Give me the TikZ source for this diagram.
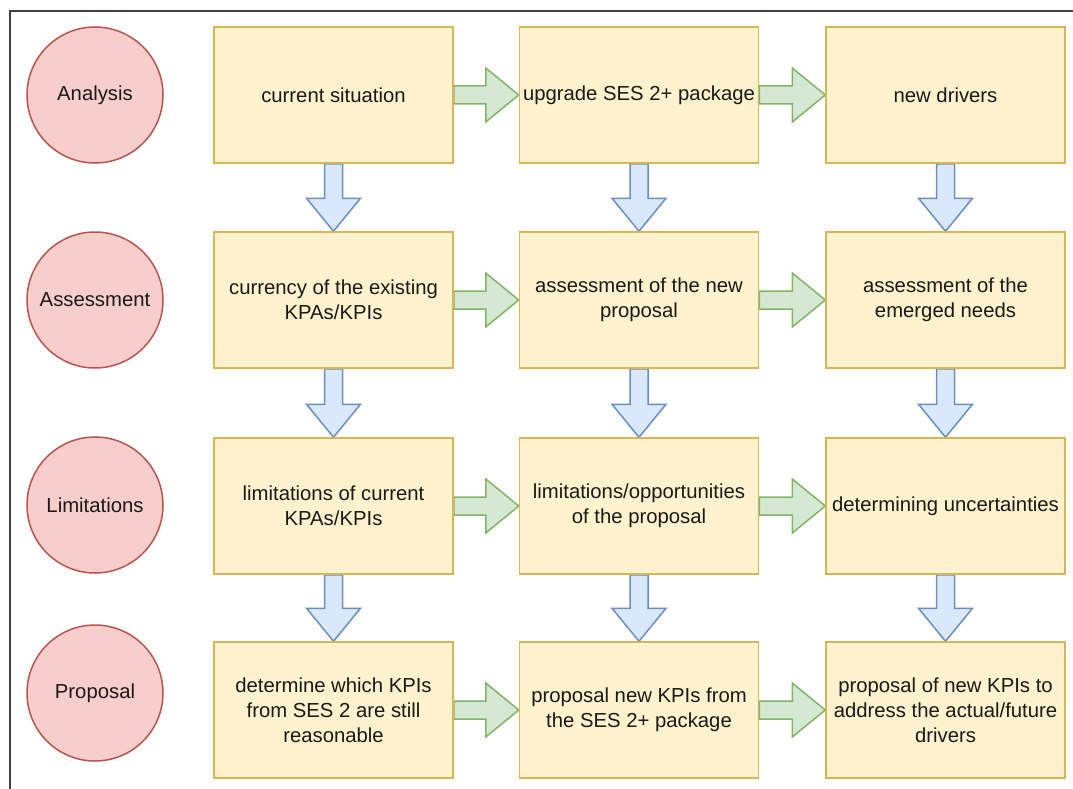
\documentclass[tikz,border=0pt]{standalone}
\usepackage{fontspec}
\setmainfont{Liberation Sans}
\usetikzlibrary{calc,backgrounds}
\definecolor{boxfill}{HTML}{FFF2CC}
\definecolor{boxline}{HTML}{D6B656}
\definecolor{circfill}{HTML}{F8CECC}
\definecolor{circline}{HTML}{B85450}
\definecolor{gfill}{HTML}{D5E8D4}
\definecolor{gline}{HTML}{82B366}
\definecolor{bfill}{HTML}{DAE8FC}
\definecolor{bline}{HTML}{6C8EBF}
\definecolor{frameline}{HTML}{404040}
\tikzset{
  stepbox/.style={draw=boxline, fill=boxfill, line width=1.5pt, minimum width=239pt, minimum height=136pt, inner sep=0pt, align=center, font=\fontsize{20.3}{25}\selectfont, text=black!90},
  phase/.style={draw=circline, fill=circfill, line width=1.5pt, circle, minimum size=136pt, inner sep=0pt, font=\fontsize{20.3}{25}\selectfont, text=black!90},
  harr/.style={draw=gline, fill=gfill, line width=1.5pt, line join=miter},
  varr/.style={draw=bline, fill=bfill, line width=1.5pt, line join=miter},
}
\newcommand{\harrow}[2]{%
  \draw[harr] ($(#1.east)+(0,-9)$) -- ($(#2.west)+(-33,-9)$) -- ($(#2.west)+(-33,-27)$) -- (#2.west) -- ($(#2.west)+(-33,27)$) -- ($(#2.west)+(-33,9)$) -- ($(#1.east)+(0,9)$) -- cycle;}
\newcommand{\varrow}[2]{%
  \draw[varr] ($(#1.south)+(-9,0)$) -- ($(#1.south)+(9,0)$) -- ($(#2.north)+(9,-33)$) -- ($(#2.north)+(27,-33)$) -- (#2.north) -- ($(#2.north)+(-27,-33)$) -- ($(#2.north)+(-9,-33)$) -- cycle;}
\begin{document}
\begin{tikzpicture}[x=1pt,y=-1pt]
\useasboundingbox (0,0) rectangle (1073,789);
\draw[frameline, line width=1.5pt] (10,792) -- (10,11) -- (1076,11);
% phases
\node[phase] (c1) at (95,95) {Analysis};
\node[phase] (c2) at (95,300) {Assessment};
\node[phase] (c3) at (95,505) {Limitations};
\node[phase] (c4) at (95,693) {Proposal};
% row 1
\node[stepbox] (a1) at (333.5,95) {current situation};
\node[stepbox] (a2) at (639,95) {upgrade SES 2+ package};
\node[stepbox] (a3) at (945.5,95) {new drivers};
% row 2
\node[stepbox] (b1) at (333.5,300) {currency of the existing\\KPAs/KPIs};
\node[stepbox] (b2) at (639,300) {assessment of the new\\proposal};
\node[stepbox] (b3) at (945.5,300) {assessment of the\\emerged needs};
% row 3
\node[stepbox] (d1) at (333.5,506) {limitations of current\\KPAs/KPIs};
\node[stepbox] (d2) at (639,506) {limitations/opportunities\\of the proposal};
\node[stepbox] (d3) at (945.5,506) {determining uncertainties};
% row 4
\node[stepbox] (e1) at (333.5,710) {determine which KPIs\\from SES 2 are still\\reasonable};
\node[stepbox] (e2) at (639,710) {proposal new KPIs from\\the SES 2+ package};
\node[stepbox] (e3) at (945.5,710) {proposal of new KPIs to\\address the actual/future\\drivers};
\begin{scope}[on background layer]
% horizontal arrows
\harrow{a1}{a2}\harrow{a2}{a3}
\harrow{b1}{b2}\harrow{b2}{b3}
\harrow{d1}{d2}\harrow{d2}{d3}
\harrow{e1}{e2}\harrow{e2}{e3}
% vertical arrows
\varrow{a1}{b1}\varrow{a2}{b2}\varrow{a3}{b3}
\varrow{b1}{d1}\varrow{b2}{d2}\varrow{b3}{d3}
\varrow{d1}{e1}\varrow{d2}{e2}\varrow{d3}{e3}
\end{scope}
\end{tikzpicture}
\end{document}
